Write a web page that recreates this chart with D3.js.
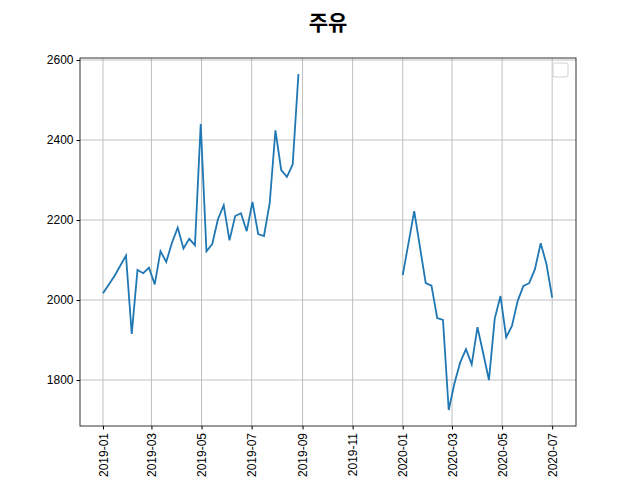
<!DOCTYPE html>
<html><head><meta charset="utf-8">
<script src="https://cdn.jsdelivr.net/npm/d3@7"></script>
<style>body{margin:0;background:#fff}svg{font-family:"Noto Sans CJK KR","DejaVu Sans",sans-serif}</style>
</head><body><svg id="c" width="640" height="480"></svg>
<script>
const title = "주유";
const dates1 = ["2019-01-01","2019-01-15","2019-01-29","2019-02-05","2019-02-12","2019-02-19","2019-02-26","2019-03-05","2019-03-12","2019-03-19","2019-03-26","2019-04-02","2019-04-09","2019-04-16","2019-04-23","2019-04-30","2019-05-07","2019-05-14","2019-05-21","2019-05-28","2019-06-04","2019-06-11","2019-06-18","2019-06-25","2019-07-02","2019-07-09","2019-07-16","2019-07-23","2019-07-30","2019-08-06","2019-08-13","2019-08-20","2019-08-27"];
const values1 = [2017,2060,2111,1915,2075,2067,2081,2039,2122,2095,2143,2181,2129,2153,2137,2440,2122,2140,2202,2237,2149,2210,2217,2172,2245,2165,2160,2242,2424,2325,2308,2339,2565];
const dates2 = ["2020-01-01","2020-01-15","2020-01-29","2020-02-05","2020-02-12","2020-02-19","2020-02-26","2020-03-04","2020-03-11","2020-03-18","2020-03-25","2020-04-01","2020-04-08","2020-04-15","2020-04-22","2020-04-29","2020-05-06","2020-05-13","2020-05-20","2020-05-27","2020-06-03","2020-06-10","2020-06-17","2020-06-24","2020-07-01"];
const values2 = [2062,2222,2042,2036,1955,1950,1725,1792,1844,1877,1839,1932,1867,1800,1953,2010,1907,1935,1998,2035,2042,2077,2142,2090,2006];
const tickLabels = ["2019-01","2019-03","2019-05","2019-07","2019-09","2019-11","2020-01","2020-03","2020-05","2020-07"];
const yTicks = [1800,2000,2200,2400,2600];

const p = d3.timeParse("%Y-%m-%d"), pm = d3.timeParse("%Y-%m");
const data = dates1.map((d,i)=>({d:p(d),v:values1[i]}))
  .concat([{d:p("2019-09-15"),v:null}])
  .concat(dates2.map((d,i)=>({d:p(d),v:values2[i]})));
const L=80,R=576,T=58,B=426;
const x = d3.scaleTime().domain([p("2018-12-04"),p("2020-07-30")]).range([L,R]);
const y = d3.scaleLinear().domain([1685,2605]).range([B,T]);
const svg = d3.select("#c");
svg.append("text").attr("x",328).attr("y",30).attr("text-anchor","middle").attr("font-size",21).attr("font-weight","bold").text(title);
const g = svg.append("g");
g.selectAll(".gx").data(tickLabels).join("line").attr("x1",d=>x(pm(d))).attr("x2",d=>x(pm(d))).attr("y1",T).attr("y2",B).attr("stroke","#b0b0b0").attr("stroke-width",0.8);
g.selectAll(".gy").data(yTicks).join("line").attr("y1",d=>y(d)).attr("y2",d=>y(d)).attr("x1",L).attr("x2",R).attr("stroke","#b0b0b0").attr("stroke-width",0.8);
const line = d3.line().defined(d=>d.v!=null).x(d=>x(d.d)).y(d=>y(d.v));
g.append("path").datum(data).attr("d",line).attr("fill","none").attr("stroke","#1f77b4").attr("stroke-width",1.8);
const xa = svg.append("g").attr("transform",`translate(0,${B})`).call(d3.axisBottom(x).tickValues(tickLabels.map(pm)).tickFormat(d3.timeFormat("%Y-%m")).tickSizeOuter(0).tickSize(3.5));
xa.selectAll("text").attr("transform","rotate(-90)").attr("text-anchor","end").attr("x",-7).attr("y",0).attr("dy","0.35em").attr("font-size",12).attr("fill","#000");
const ya = svg.append("g").attr("transform",`translate(${L},0)`).call(d3.axisLeft(y).tickValues(yTicks).tickSizeOuter(0).tickSize(3.5).tickFormat(d3.format("d")));
ya.selectAll("text").attr("font-size",12).attr("fill","#000");
svg.selectAll(".domain").remove();
svg.append("rect").attr("x",L).attr("y",T).attr("width",R-L).attr("height",B-T).attr("fill","none").attr("stroke","#000").attr("stroke-width",0.8);
svg.append("rect").attr("x",553).attr("y",63).attr("width",15).attr("height",14).attr("rx",2).attr("fill","#fff").attr("stroke","#d0d0d0");
</script></body></html>
